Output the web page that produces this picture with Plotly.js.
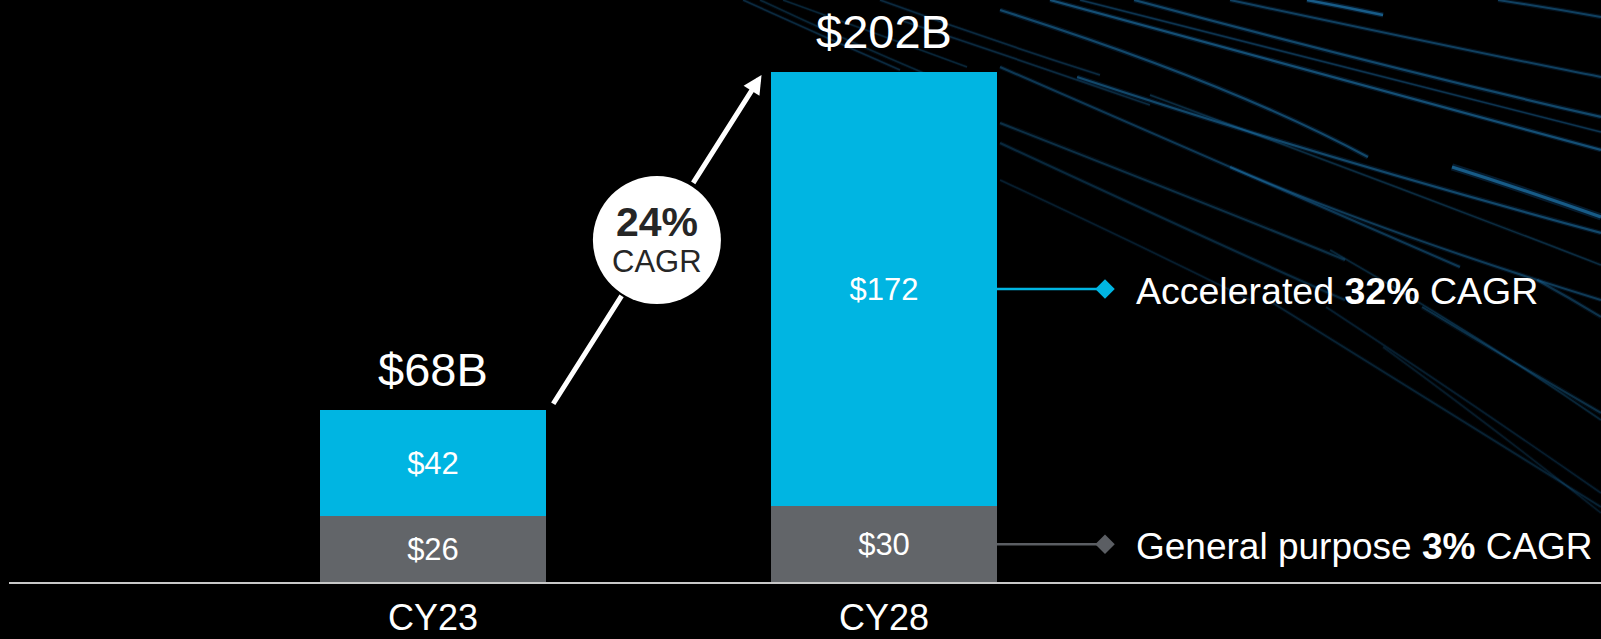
<!DOCTYPE html>
<html>
<head>
<meta charset="utf-8">
<script src="https://cdn.plot.ly/plotly-3.0.1.min.js"></script>
<style>html,body{margin:0;padding:0;background:#000;}#chart{width:1601px;height:639px;}</style>
</head>
<body>
<div id="chart"></div>
<script>
// ---- data ----
const categories = ['CY23', 'CY28'];
const generalPurpose = [26, 30];
const accelerated = [42, 172];
const seriesNames = ['General purpose', 'Accelerated'];
const cagrTotal = '24%';
const cagrAccelerated = '32%';
const cagrGeneral = '3%';

// ---- derived ----
const xPos = categories.map((c, i) => i);
const totals = generalPurpose.map((g, i) => g + accelerated[i]);

// ---- style / layout constants ----
const FONT = 'Liberation Sans, Arial, sans-serif';
const BLUE = '#00b5e2';
const GRAY = '#626569';
const GRAY_LINE = '#5b5e63';
const barWidth = 0.501;
const xRange = [-0.9401, 2.5898];
const yRange = [0, 230.5];
const last = categories.length - 1;
const connEnd = 1.49;
const labelX = 1.555;

const traces = [
  {
    type: 'bar', name: seriesNames[0], x: xPos, y: generalPurpose, width: barWidth,
    marker: {color: GRAY, line: {width: 0}},
    text: generalPurpose.map(v => '$' + v), textposition: 'inside', insidetextanchor: 'middle',
    textfont: {family: FONT, size: 31, color: '#ffffff'}, constraintext: 'none',
    hoverinfo: 'skip'
  },
  {
    type: 'bar', name: seriesNames[1], x: xPos, y: accelerated, width: barWidth,
    marker: {color: BLUE, line: {width: 0}},
    text: accelerated.map(v => '$' + v), textposition: 'inside', insidetextanchor: 'middle',
    textfont: {family: FONT, size: 31, color: '#ffffff'}, constraintext: 'none',
    hoverinfo: 'skip'
  },
  {
    type: 'scatter', mode: 'lines+markers', hoverinfo: 'skip',
    x: [xPos[last] + barWidth / 2, connEnd],
    y: [generalPurpose[last] + accelerated[last] / 2, generalPurpose[last] + accelerated[last] / 2],
    line: {color: BLUE, width: 2.5},
    marker: {symbol: 'diamond', size: [0, 15], color: BLUE, opacity: 1, line: {width: 0}}
  },
  {
    type: 'scatter', mode: 'lines+markers', hoverinfo: 'skip',
    x: [xPos[last] + barWidth / 2, connEnd],
    y: [generalPurpose[last] / 2, generalPurpose[last] / 2],
    line: {color: GRAY_LINE, width: 2.5},
    marker: {symbol: 'diamond', size: [0, 15], color: GRAY_LINE, opacity: 1, line: {width: 0}}
  }
];

// arrow geometry (relative to bars)
const arrowStart = {x: xPos[0] + barWidth / 2 + 0.014, y: totals[0] + 2};
const arrowEnd = {x: xPos[last] - barWidth / 2 - 0.021, y: totals[last] - 1.2};
const circ = {x: (arrowStart.x + arrowEnd.x) / 2, y: (arrowStart.y + arrowEnd.y) / 2};
const R = 64;

const annotations = [];
totals.forEach((t, i) => {
  annotations.push({
    x: xPos[i], y: t, xref: 'x', yref: 'y', text: '$' + t + 'B', showarrow: false,
    yanchor: 'bottom', yshift: 12, font: {family: FONT, size: 47, color: '#ffffff'}
  });
});
annotations.push({
  x: labelX, y: generalPurpose[last] + accelerated[last] / 2, xref: 'x', yref: 'y',
  xanchor: 'left', yanchor: 'middle', yshift: -2, showarrow: false,
  text: seriesNames[1] + ' <b>' + cagrAccelerated + '</b> CAGR',
  font: {family: FONT, size: 37.5, color: '#ffffff'}
});
annotations.push({
  x: labelX, y: generalPurpose[last] / 2, xref: 'x', yref: 'y',
  xanchor: 'left', yanchor: 'middle', yshift: -2, showarrow: false,
  text: seriesNames[0] + ' <b>' + cagrGeneral + '</b> CAGR',
  font: {family: FONT, size: 37, color: '#ffffff'}
});
// arrow: upper segment with head, lower segment plain; both stop at circle edge
annotations.push({
  x: arrowEnd.x, y: arrowEnd.y, xref: 'x', yref: 'y', axref: 'x', ayref: 'y',
  ax: circ.x, ay: circ.y, text: '', showarrow: true, arrowhead: 2, arrowsize: 0.75,
  arrowwidth: 5, arrowcolor: '#ffffff', standoff: 0, startstandoff: R + 2
});
annotations.push({
  x: circ.x, y: circ.y, xref: 'x', yref: 'y', axref: 'x', ayref: 'y',
  ax: arrowStart.x, ay: arrowStart.y, text: '', showarrow: true, arrowhead: 0,
  arrowwidth: 5, arrowcolor: '#ffffff', standoff: R + 2, startstandoff: 0
});
annotations.push({
  x: circ.x, y: circ.y, xref: 'x', yref: 'y', text: '<b>' + cagrTotal + '</b>', showarrow: false,
  yanchor: 'middle', yshift: 18, font: {family: FONT, size: 41, color: '#262626'}
});
annotations.push({
  x: circ.x, y: circ.y, xref: 'x', yref: 'y', text: 'CAGR', showarrow: false,
  yanchor: 'middle', yshift: -21, font: {family: FONT, size: 31, color: '#262626'}
});

// decorative background light streaks, pixel coords: [x0,y0, cx,cy, x1,y1, alpha, width]
const streaks = [
  [743, 0, 820, 35, 900, 70, 0.25, 1.6],
  [760, 0, 845, 40, 933, 77, 0.22, 1.6],
  [783, 0, 875, 33, 967, 67, 0.22, 1.4],
  [880, 0, 990, 40, 1100, 75, 0.25, 1.6],
  [900, 20, 1020, 60, 1150, 105, 0.25, 1.6],
  [1050, 0, 1268, 60, 1601, 150, 0.50, 2.2],
  [1080, 0, 1300, 55, 1601, 132, 0.32, 1.6],
  [1134, 0, 1383, 67, 1601, 117, 0.45, 2.2],
  [1230, 0, 1498, 57, 1601, 77, 0.40, 2.0],
  [1307, 0, 1345, 7, 1383, 15, 0.60, 2.4],
  [1498, 0, 1550, 8, 1601, 17, 0.40, 2.0],
  [1000, 10, 1230, 83, 1368, 157, 0.45, 2.2],
  [1077, 77, 1307, 153, 1601, 233, 0.45, 2.2],
  [1000, 67, 1307, 200, 1460, 267, 0.34, 2.0],
  [1000, 123, 1230, 213, 1345, 260, 0.28, 2.0],
  [1000, 143, 1268, 267, 1345, 300, 0.24, 2.0],
  [1452, 167, 1525, 190, 1601, 217, 0.60, 3.2],
  [1230, 167, 1383, 233, 1601, 300, 0.36, 2.0],
  [1150, 95, 1380, 180, 1601, 265, 0.26, 1.6],
  [1000, 180, 1150, 250, 1250, 300, 0.18, 1.6],
  [1268, 300, 1430, 400, 1601, 507, 0.20, 1.8],
  [1326, 307, 1460, 395, 1601, 493, 0.18, 1.6],
  [1383, 347, 1490, 425, 1601, 513, 0.16, 1.6],
  [1422, 307, 1510, 360, 1601, 413, 0.28, 2.0],
  [1537, 280, 1570, 298, 1601, 317, 0.30, 2.0],
  [1330, 250, 1470, 330, 1601, 420, 0.22, 1.6]
];
const PL = 9, PW = 1592, PH = 582;
const px = v => ((v - PL) / PW).toFixed(4);
const py = v => ((PH - v) / PH).toFixed(4);
const shapes = [];
streaks.forEach(s => {
  const path = `M${px(s[0])},${py(s[1])} Q${px(s[2])},${py(s[3])} ${px(s[4])},${py(s[5])}`;
  shapes.push({
    type: 'path', xref: 'paper', yref: 'paper', layer: 'below', path: path,
    line: {color: `rgba(20,90,150,${(s[6] * 0.5).toFixed(3)})`, width: s[7] * 2.2}
  });
  shapes.push({
    type: 'path', xref: 'paper', yref: 'paper', layer: 'below', path: path,
    line: {color: `rgba(35,135,195,${s[6]})`, width: s[7]}
  });
});
shapes.push({
  type: 'circle', xref: 'x', yref: 'y', xsizemode: 'pixel', ysizemode: 'pixel',
  xanchor: circ.x, yanchor: circ.y, x0: -R, x1: R, y0: -R, y1: R,
  fillcolor: '#ffffff', line: {width: 0}, layer: 'above'
});

const layout = {
  width: 1601, height: 639, autosize: false,
  margin: {l: PL, r: 0, t: 0, b: 639 - PH, pad: 0},
  paper_bgcolor: '#000000', plot_bgcolor: 'rgba(0,0,0,0)',
  barmode: 'stack', showlegend: false,
  font: {family: FONT, color: '#ffffff'},
  xaxis: {
    range: xRange, tickvals: xPos, ticktext: categories, showgrid: false, zeroline: false,
    showline: true, linecolor: '#c8c8c8', linewidth: 2, ticks: '', fixedrange: true,
    tickfont: {family: FONT, size: 36, color: '#ffffff'}, ticklabelstandoff: 3
  },
  yaxis: {range: yRange, visible: false, fixedrange: true},
  annotations: annotations,
  shapes: shapes
};

Plotly.newPlot('chart', traces, layout, {displayModeBar: false, staticPlot: true});
</script>
</body>
</html>
